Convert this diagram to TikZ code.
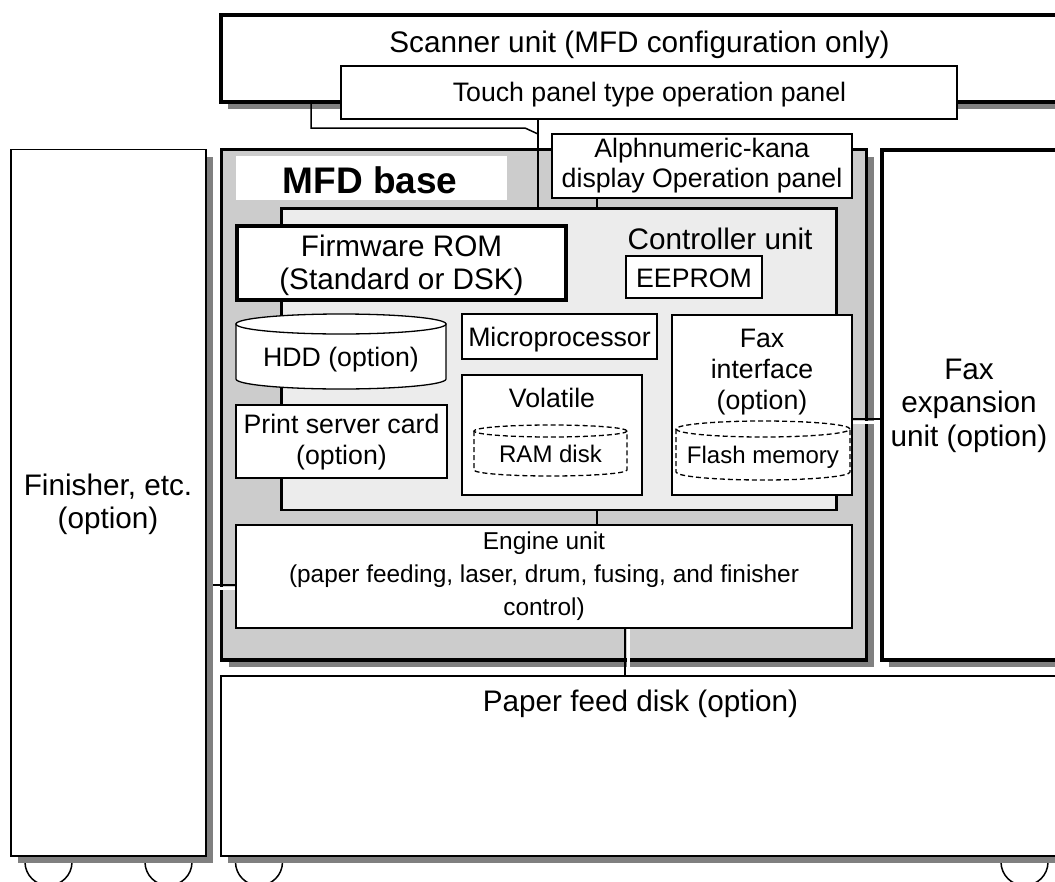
\documentclass[tikz,border=0pt]{standalone}
\usepackage{fontspec}
\setmainfont{Liberation Sans}
\usetikzlibrary{shadows,calc}
\definecolor{shadowgray}{RGB}{128,128,128}
\definecolor{basegray}{RGB}{204,204,204}
\definecolor{ctrlgray}{RGB}{236,236,236}
\newcommand\fbig{\fontsize{29.7}{34}\selectfont}
\newcommand\fmid{\fontsize{26.7}{31}\selectfont}
\newcommand\feng{\fontsize{24.4}{29}\selectfont}
\newcommand\fsml{\fontsize{24}{28}\selectfont}
\newcommand\fbld{\fontsize{37}{42}\selectfont\bfseries}
\begin{document}
\begin{tikzpicture}[x=1pt,y=-1pt,
  box/.style={draw, fill=white, rectangle, inner sep=0pt, outer sep=0pt, line width=1.3pt, anchor=north west},
  heavy/.style={line width=3.5pt},
  shadowed/.style={drop shadow={shadow xshift=7pt, shadow yshift=-7pt, fill=shadowgray, opacity=1}},
  lbl/.style={inner sep=0pt, outer sep=0pt, anchor=base},
  conn/.style={line width=1.5pt},
  gapline/.style={white, line width=3pt},
  wheel/.style={line width=1.5pt},
  dsh/.style={dash pattern=on 5pt off 3pt, line width=1.3pt}
]
\useasboundingbox (0,0) rectangle (1055,881);
\clip (0,0) rectangle (1055,881);

% wheels
\draw[wheel] (48.5,862) circle[radius=23.5pt];
\draw[wheel] (168.5,862) circle[radius=23.5pt];
\draw[wheel] (259,862) circle[radius=23.5pt];
\draw[wheel] (1024.5,862) circle[radius=23.5pt];

% big units
\node[box, shadowed, minimum width=195pt, minimum height=706.5pt] (finisher) at (11,149.5) {};
\node[box, shadowed, line width=1.5pt, minimum width=900pt, minimum height=180pt] (paper) at (221,676) {};
\node[box, shadowed, heavy, fill=basegray, minimum width=645pt, minimum height=510.5pt] (mfd) at (221.5,149.5) {};
\node[box, shadowed, line width=3.3pt, minimum width=250pt, minimum height=510pt] (faxexp) at (882,150) {};
\node[box, shadowed, heavy, minimum width=900pt, minimum height=87pt] (scanner) at (221,15) {};
\node[box, minimum width=616pt, minimum height=53pt] (touch) at (341,66) {};
\node[box, minimum width=300pt, minimum height=64pt] (alpha) at (552,134) {};
\node[box, draw=none, minimum width=271pt, minimum height=44pt] (mfdlabel) at (236,156) {};

% connectors from panels
\coordinate (scanTap) at (311,102);
\coordinate (bendA) at (311,128);
\coordinate (bendB) at (525,128);
\coordinate (joinP) at (538,134);
\coordinate (xAlpha) at (597,0);
\draw[conn] (scanTap) -- (bendA) -- (bendB) -- (joinP);

% controller
\node[box, fill=ctrlgray, line width=2.8pt, minimum width=555pt, minimum height=301.5pt] (ctrl) at (281.5,208.5) {};
\draw[conn] (touch.south -| joinP) -- (ctrl.north -| joinP);
\draw[conn] (alpha.south -| xAlpha) -- (ctrl.north -| xAlpha);

\node[box, heavy, minimum width=329pt, minimum height=74pt] (firmware) at (237,226) {};
\node[box, minimum width=136pt, minimum height=42pt] (eeprom) at (626,256) {};
\node[box, minimum width=195pt, minimum height=45pt] (micro) at (462,314) {};
\node[box, minimum width=180pt, minimum height=120pt] (volatile) at (462,375) {};
\node[box, minimum width=180pt, minimum height=180pt] (faxif) at (672,315) {};
\node[box, minimum width=211pt, minimum height=73pt] (print) at (236,405) {};
\node[box, minimum width=616pt, minimum height=103pt] (engine) at (236,525) {};

% HDD cylinder
\path[draw, fill=white, line width=1.3pt] (236,324) -- (236,379) arc[start angle=180, end angle=360, x radius=105pt, y radius=10pt] -- (446,324) -- cycle;
\draw[fill=white, line width=1.3pt] (341,324) ellipse[x radius=105pt, y radius=10pt];
% RAM disk cylinder
\draw[dsh] (474,431) -- (474,470) arc[start angle=180, end angle=360, x radius=76.5pt, y radius=6pt] -- (627,431);
\draw[dsh] (550.5,431) ellipse[x radius=76.5pt, y radius=6pt];
% Flash memory cylinder
\draw[dsh] (676,429) -- (676,472) arc[start angle=180, end angle=360, x radius=87pt, y radius=8pt] -- (850,429);
\draw[dsh] (763,429) ellipse[x radius=87pt, y radius=8pt];

% connectors
\coordinate (xCE) at (597,0);
\draw[conn] (ctrl.south -| xCE) -- (engine.north -| xCE);
\coordinate (xEPk) at (625,0);
\coordinate (xEPw) at (628,0);
\draw[gapline] ($(engine.south -| xEPw)+(0,1)$) -- ($(paper.north -| xEPw)+(0,-1)$);
\draw[conn] (engine.south -| xEPk) -- (paper.north -| xEPk);
\coordinate (yFk) at (0,419);
\coordinate (yFw) at (0,422);
\draw[gapline] ($(faxif.east |- yFw)+(1,0)$) -- ($(faxexp.west |- yFw)+(-2,0)$);
\draw[conn] (faxif.east |- yFk) -- (faxexp.west |- yFk);
\coordinate (yLk) at (0,585);
\coordinate (yLw) at (0,588);
\draw[gapline] ($(finisher.east |- yLw)+(7,0)$) -- ($(engine.west |- yLw)+(-1,0)$);
\draw[conn] ($(finisher.east |- yLk)+(7,0)$) -- (engine.west |- yLk);

% texts
\node[lbl, font=\fbig] (tScanner) at (639.5,52) {Scanner unit (MFD configuration only)};
\node[lbl, font=\fmid] (tTouch) at (649.5,101) {Touch panel type operation panel};
\node[lbl, font=\fmid] (tAlpha1) at (702,157) {Alphnumeric-kana};
\node[lbl, font=\fmid] (tAlpha2) at (702,187) {display Operation panel};
\node[lbl, font=\fbld] (tMFD) at (370,193) {MFD base};
\node[lbl, font=\fbig] (tFirm1) at (401.5,256) {Firmware ROM};
\node[lbl, font=\fbig] (tFirm2) at (401.5,289) {(Standard or DSK)};
\node[lbl, font=\fbig] (tCtrl) at (720,249) {Controller unit};
\node[lbl, font=\fmid] (tEep) at (694,287) {EEPROM};
\node[lbl, font=\fmid] (tHDD) at (341,366) {HDD (option)};
\node[lbl, font=\fmid] (tMicro) at (559.5,346) {Microprocessor};
\node[lbl, font=\fmid] (tVol) at (552,407) {Volatile};
\node[lbl, font=\fsml] (tRAM) at (550.5,462) {RAM disk};
\node[lbl, font=\fmid] (tPrint1) at (341.5,433) {Print server card};
\node[lbl, font=\fmid] (tPrint2) at (341.5,464) {(option)};
\node[lbl, font=\fmid] (tFax1) at (762,347) {Fax};
\node[lbl, font=\fmid] (tFax2) at (762,378) {interface};
\node[lbl, font=\fmid] (tFax3) at (762,409) {(option)};
\node[lbl, font=\fsml] (tFlash) at (763,463) {Flash memory};
\node[lbl, font=\fbig] (tExp1) at (969,379) {Fax};
\node[lbl, font=\fbig] (tExp2) at (969,412) {expansion};
\node[lbl, font=\fbig] (tExp3) at (969,446) {unit (option)};
\node[lbl, font=\fbig] (tFin1) at (108,495) {Finisher, etc.};
\node[lbl, font=\fbig] (tFin2) at (108,528) {(option)};
\node[lbl, font=\feng] (tEng1) at (544,549) {Engine unit};
\node[lbl, font=\feng] (tEng2) at (544,582) {(paper feeding, laser, drum, fusing, and finisher};
\node[lbl, font=\feng] (tEng3) at (544,615) {control)};
\node[lbl, font=\fbig] (tPaper) at (640.5,711) {Paper feed disk (option)};
\end{tikzpicture}
\end{document}
